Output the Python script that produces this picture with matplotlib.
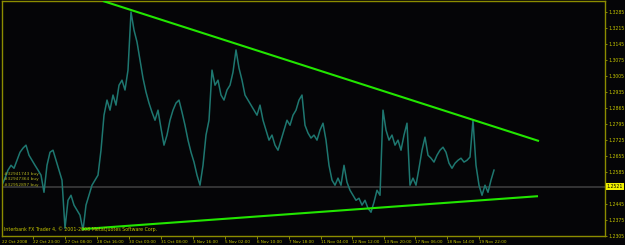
import matplotlib
matplotlib.use("Agg")
import matplotlib.pyplot as plt
import matplotlib.transforms as mtransforms
import numpy as np

# hourly closes, sampled every 3 bars (bar index 0 = left edge of chart)
closes = [1.2527, 1.2558, 1.2593, 1.2614, 1.2601, 1.2636, 1.2671, 1.2689, 1.2702, 1.2658,
          1.2636, 1.2614, 1.2593, 1.2571, 1.2496, 1.2614, 1.2671, 1.2680, 1.2636, 1.2593,
          1.2549, 1.2339, 1.2461, 1.2483, 1.2440, 1.2418, 1.2396, 1.2330, 1.2440, 1.2483,
          1.2527, 1.2549, 1.2571, 1.2680, 1.2833, 1.2899, 1.2855, 1.2921, 1.2877, 1.2964,
          1.2986, 1.2943, 1.3030, 1.3284, 1.3205, 1.3153, 1.3074, 1.2995, 1.2934, 1.2886,
          1.2846, 1.2811, 1.2855, 1.2776, 1.2702, 1.2746, 1.2811, 1.2855, 1.2886, 1.2899,
          1.2846, 1.2789, 1.2724, 1.2671, 1.2628, 1.2571, 1.2527, 1.2614, 1.2746, 1.2811,
          1.3030, 1.2964, 1.2986, 1.2921, 1.2899, 1.2943, 1.2964, 1.3021, 1.3118, 1.3039,
          1.2986, 1.2921, 1.2899, 1.2877, 1.2855, 1.2833, 1.2877, 1.2811, 1.2768, 1.2724,
          1.2746, 1.2702, 1.2680, 1.2724, 1.2768, 1.2811, 1.2789, 1.2833, 1.2855, 1.2899,
          1.2921, 1.2789, 1.2755, 1.2733, 1.2746, 1.2724, 1.2768, 1.2798, 1.2724, 1.2614,
          1.2549, 1.2527, 1.2558, 1.2527, 1.2614, 1.2540, 1.2505, 1.2483, 1.2461, 1.2470,
          1.2440, 1.2461, 1.2426, 1.2409, 1.2453, 1.2505, 1.2483, 1.2855, 1.2768, 1.2724,
          1.2746, 1.2702, 1.2724, 1.2680, 1.2746, 1.2798, 1.2527, 1.2558, 1.2527, 1.2601,
          1.2680, 1.2737, 1.2658, 1.2645, 1.2628, 1.2658, 1.2680, 1.2693, 1.2671, 1.2623,
          1.2601, 1.2623, 1.2636, 1.2645, 1.2628, 1.2636, 1.2650, 1.2811, 1.2614, 1.2527,
          1.2483, 1.2527, 1.2496, 1.2549, 1.2593]
bars = np.arange(len(closes)) * 3

# trendlines (bar index, price)
resist_x = [101, 537]
resist_y = [1.3332, 1.2720]
support_x = [80, 536]
support_y = [1.2335, 1.2479]

last_price = 1.2521
yticks = [1.3285, 1.3215, 1.3145, 1.3075, 1.3005, 1.2935, 1.2865, 1.2795,
          1.2725, 1.2655, 1.2585, 1.2445, 1.2375, 1.2305]
xtick_pos = [0, 31, 63, 95, 127, 159, 191, 223, 255, 287, 319, 350, 382, 413, 445, 477]
xtick_labels = ["22 Oct 2008", "22 Oct 23:00", "27 Oct 08:00", "28 Oct 16:00", "30 Oct 00:00",
                "31 Oct 08:00", "3 Nov 16:00", "5 Nov 02:00", "6 Nov 10:00", "7 Nov 18:00",
                "11 Nov 04:00", "12 Nov 12:00", "13 Nov 20:00", "17 Nov 06:00",
                "18 Nov 14:00", "19 Nov 22:00"]
orders = ["#32941743 buy", "#32947364 buy", "#32952897 buy"]

fg = "#c4c400"
frame = "#8c8c00"
bg = "#050507"

fig = plt.figure(figsize=(6.25, 2.45), dpi=100, facecolor=bg)
ax = fig.add_axes([2 / 625, 9 / 245, 603 / 625, 235 / 245])
ax.set_facecolor(bg)

ax.axhline(last_price, color="#3c3c3c", lw=1.2, zorder=1)
ax.plot(bars, closes, color="#1e7770", lw=1.1, zorder=2)
ax.plot(resist_x, resist_y, color="#22e600", lw=1.5, zorder=3, solid_capstyle="butt")
ax.plot(support_x, support_y, color="#22e600", lw=1.5, zorder=3, solid_capstyle="butt")

ax.set_xlim(0, 603)
ax.set_ylim(1.2305, 1.3332)

for s in ax.spines.values():
    s.set_color(frame)
    s.set_linewidth(1.0)

ax.yaxis.tick_right()
ax.set_yticks(yticks)
ax.set_yticklabels(["%.4f" % v for v in yticks])
ax.tick_params(axis="y", direction="out", length=1.5, width=0.7, color=frame,
               labelcolor=fg, labelsize=3.3, pad=1)

ax.set_xticks(xtick_pos)
ax.set_xticklabels(xtick_labels, ha="left")
ax.tick_params(axis="x", direction="out", length=2.5, width=0.7, color=frame,
               labelcolor=fg, labelsize=3.0, pad=0.5)
ax.xaxis.get_major_ticks()[0].tick1line.set_visible(False)

# current price marker on the right scale
trans = mtransforms.blended_transform_factory(ax.transAxes, ax.transData)
ax.text(1.003, last_price, "%.4f" % last_price, transform=trans, fontsize=3.3,
        color="black", va="center", ha="left",
        bbox=dict(boxstyle="square,pad=0.2", fc="#f0f000", ec="none"), clip_on=False)

# order labels
for i, o in enumerate(orders):
    ax.text(0.004, 0.265 - i * 0.024, o, transform=ax.transAxes, fontsize=3.1,
            color="#b0b020", va="center", ha="left")

ax.text(0.004, 0.03, "Interbank FX Trader 4, \u00a9 2001-2008 MetaQuotes Software Corp.",
        transform=ax.transAxes, fontsize=3.4, color=fg, va="center", ha="left")

fig.savefig("out.png", dpi=100, facecolor=bg)
